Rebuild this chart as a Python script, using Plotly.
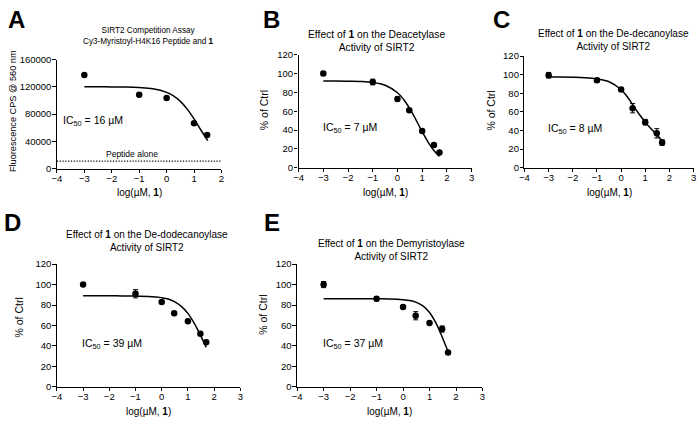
import plotly.graph_objects as go

W, H = 700, 422

# ---------------- data ----------------
logc_A = [-3, -1, 0, 1, 1.477]
cps_A = [137500, 108500, 103500, 66500, 49500]
peptide_alone = 11000

logc = [-3, -1, 0, 0.477, 1, 1.477, 1.699]
pct_B = [100, 91, 73, 61, 39, 24, 16]
err_B = [2, 3, 2, 1, 1, 1, 1]
pct_C = [99.5, 94, 84, 64, 49, 37, 27]
err_C = [3, 2, 1, 5, 3, 5, 3]
pct_D = [100, 91, 83, 72, 64, 52, 43.5]
err_D = [1, 4, 1, 1, 1, 1, 1]
pct_E = [100, 86, 78, 69.5, 62.5, 56.5, 33.5]
err_E = [3, 2, 1, 4, 1, 3, 1]

# fitted curves
fit_x = [-3, -2.5, -2, -1.5, -1, -0.5, 0, 0.25, 0.5, 0.75, 1, 1.25, 1.5, 1.7]
fit_A = [120000, 120000, 119900, 119700, 119000, 117200, 111900, 106700, 98700, 87300, 72900, 56700, 41000]
fit_B = [92, 92, 91.8, 91.5, 90.5, 87.5, 79.6, 72.5, 62.7, 50.8, 38.2, 26.7, 17.5, 12]
fit_C = [97.5, 97.5, 97.3, 96.8, 95.5, 92.5, 84, 76.5, 67, 57.5, 49, 41.5, 35, 29]
fit_D = [89, 89, 89, 88.9, 88.7, 88.4, 87.2, 85.9, 83, 78.6, 71.8, 61.8, 49.3, 38.6]
fit_E = [86, 86, 86, 86, 86, 85.9, 85.2, 84.4, 82.6, 79.2, 72.7, 62, 47.3, 34.6]

x_ticks = [-4, -3, -2, -1, 0, 1, 2, 3]
pct_ticks = [0, 20, 40, 60, 80, 100, 120]
cps_ticks = [0, 40000, 80000, 120000, 160000]

titles = {
    "A": "SIRT2 Competition Assay<br>Cy3-Myristoyl-H4K16 Peptide and <b>1</b>",
    "B": "Effect of <b>1</b> on the Deacetylase<br>Activity of SIRT2",
    "C": "Effect of <b>1</b> on the De-decanoylase<br>Activity of SIRT2",
    "D": "Effect of <b>1</b> on the De-dodecanoylase<br>Activity of SIRT2",
    "E": "Effect of <b>1</b> on the Demyristoylase<br>Activity of SIRT2",
}
ic50 = {"A": "16", "B": "7", "C": "8", "D": "39", "E": "37"}

FONT = "Liberation Sans, Arial, sans-serif"

def px(x):
    return x / W

def py(y):
    return (H - y) / H

# panel geometry in pixels: left, right, top, bottom
geom = {
    "A": (52.5, 219, 55, 167),
    "B": (297, 472, 50, 166),
    "C": (525.5, 696.5, 51.5, 166),
    "D": (52.5, 238, 265, 391),
    "E": (295.5, 483, 265, 391),
}
xr = {"A": [-4, 2], "B": [-4, 3], "C": [-4, 3], "D": [-4, 3], "E": [-4, 3]}

fig = go.Figure()
names = ["A", "B", "C", "D", "E"]
series = {
    "B": (pct_B, err_B, fit_B),
    "C": (pct_C, err_C, fit_C),
    "D": (pct_D, err_D, fit_D),
    "E": (pct_E, err_E, fit_E),
}

annotations = []
layout = {}
for i, n in enumerate(names):
    k = "" if i == 0 else str(i + 1)
    xa, ya = "x" + k, "y" + k
    l, r, t, b = geom[n]
    axis_common = dict(
        showline=True, linecolor="black", linewidth=1.3, ticks="outside",
        ticklen=3.5, tickwidth=1.3, tickcolor="black", showgrid=False,
        zeroline=False, mirror=False, tickfont=dict(family=FONT, size=9.5, color="black"),
    )
    layout["xaxis" + k] = dict(
        domain=[px(l), px(r)], range=xr[n], anchor=ya, ticklabelstandoff=-3,
        tickvals=[v for v in x_ticks if v <= xr[n][1]], **axis_common
    )
    if n == "A":
        layout["yaxis" + k] = dict(domain=[py(b), py(t)], range=[0, 160000], anchor=xa,
                                   tickvals=cps_ticks, ticktext=[str(v) for v in cps_ticks],
                                   ticklabelstandoff=-1, **axis_common)
    else:
        layout["yaxis" + k] = dict(domain=[py(b), py(t)], range=[0, 120], anchor=xa,
                                   tickvals=pct_ticks, ticklabelstandoff=-1, **axis_common)

    if n == "A":
        fig.add_trace(go.Scatter(x=fit_x[:len(fit_A)], y=fit_A, mode="lines", xaxis=xa, yaxis=ya,
                                 line=dict(color="black", width=1.5, shape="spline"), showlegend=False))
        fig.add_trace(go.Scatter(x=logc_A, y=cps_A, mode="markers", xaxis=xa, yaxis=ya,
                                 marker=dict(color="black", size=6.5), showlegend=False))
        fig.add_trace(go.Scatter(x=xr[n], y=[peptide_alone, peptide_alone], mode="lines",
                                 xaxis=xa, yaxis=ya,
                                 line=dict(color="black", width=1.2, dash="1.2px,1.6px"),
                                 showlegend=False))
        annotations.append(dict(x=-1.25, y=21000, xref=xa, yref=ya, text="Peptide alone",
                                showarrow=False, font=dict(family=FONT, size=8.5, color="black")))
        annotations.append(dict(x=-3.85, y=70000, xref=xa, yref=ya, xanchor="left",
                                text="IC<sub>50</sub> = %s µM" % ic50[n], showarrow=False,
                                font=dict(family=FONT, size=10.5, color="black")))
    else:
        vals, errs, fit = series[n]
        fig.add_trace(go.Scatter(x=fit_x, y=fit, mode="lines", xaxis=xa, yaxis=ya,
                                 line=dict(color="black", width=1.5, shape="spline"), showlegend=False))
        fig.add_trace(go.Scatter(x=logc, y=vals, mode="markers", xaxis=xa, yaxis=ya,
                                 error_y=dict(type="data", array=errs, color="black",
                                              thickness=1, width=2.5),
                                 marker=dict(color="black", size=6.5), showlegend=False))
        annotations.append(dict(x=-3.1, y=42, xref=xa, yref=ya, xanchor="left",
                                text="IC<sub>50</sub> = %s µM" % ic50[n], showarrow=False,
                                font=dict(family=FONT, size=10.5, color="black")))

# titles, labels, letters (pixel positions)
title_pos = {"A": (145.5, 30.5), "B": (376, 35.5), "C": (615.5, 34.5), "D": (144, 241.5), "E": (391, 251)}
title_size = {"A": 8.2, "B": 10.3, "C": 10, "D": 10, "E": 10}
ylab_pos = {"A": (8, 108), "B": (262, 107), "C": (492, 107), "D": (14, 320), "E": (261, 317)}
xlab_y = {"A": 192, "B": 192, "C": 192, "D": 416, "E": 416}
letter_pos = {"A": (12, 14), "B": (270, 14), "C": (502, 14), "D": (8, 222), "E": (270, 222)}

for n in names:
    l, r, t, b = geom[n]
    tx, ty = title_pos[n]
    annotations.append(dict(x=px(tx), y=py(ty), xref="paper", yref="paper", text=titles[n],
                            showarrow=False, xanchor="center", yanchor="middle",
                            font=dict(family=FONT, size=title_size[n], color="black")))
    lx, ly = ylab_pos[n]
    annotations.append(dict(x=px(lx), y=py(ly), xref="paper", yref="paper",
                            text="Fluorescence CPS @ 560 nm" if n == "A" else "% of Ctrl",
                            textangle=-90, showarrow=False, xanchor="center", yanchor="middle",
                            font=dict(family=FONT, size=9.2 if n == "A" else 10.5, color="black")))
    annotations.append(dict(x=px((l + r) / 2), y=py(xlab_y[n]), xref="paper", yref="paper",
                            text="log(µM, <b>1</b>)", showarrow=False, xanchor="center",
                            yanchor="middle", font=dict(family=FONT, size=10, color="black")))
    gx, gy = letter_pos[n]
    annotations.append(dict(x=px(gx), y=py(gy), xref="paper", yref="paper", text="<b>%s</b>" % n,
                            showarrow=False, xanchor="center", yanchor="middle",
                            font=dict(family=FONT, size=24, color="black")))

fig.update_layout(width=W, height=H, margin=dict(l=0, r=0, t=0, b=0),
                  paper_bgcolor="white", plot_bgcolor="white",
                  font=dict(family=FONT, color="black"),
                  annotations=annotations, **layout)

fig.write_html("out.html")
